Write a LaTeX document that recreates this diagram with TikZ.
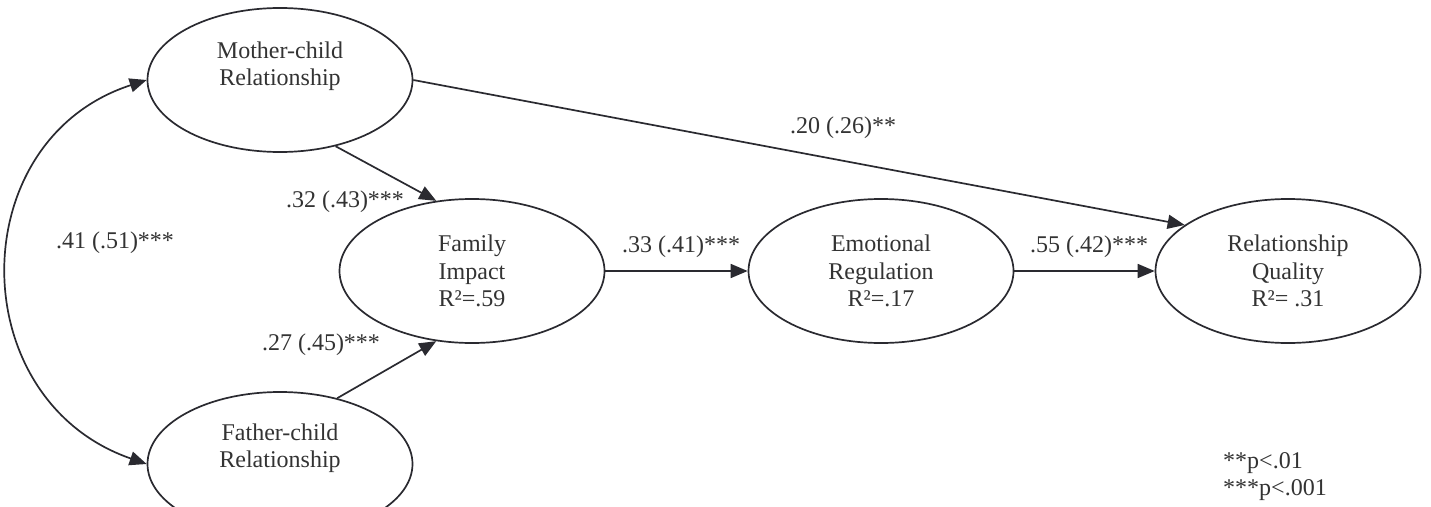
\documentclass[tikz,border=0pt]{standalone}
\usepackage{fontspec}
\setmainfont{Liberation Serif}
\usetikzlibrary{shapes.geometric,arrows.meta}
\definecolor{ink}{HTML}{2A2A30}
\definecolor{txt}{HTML}{333333}
\begin{document}
\begin{tikzpicture}[x=1pt,y=-1pt,
  latent/.style={ellipse,draw=ink,line width=1.7pt,minimum width=265pt,minimum height=144pt,inner sep=0pt},
  lbl/.style={text=txt,font=\fontsize{24}{27.5}\selectfont,align=center,inner sep=0pt},
  coef/.style={text=txt,font=\fontsize{24}{27.5}\selectfont,inner sep=0pt},
  pathto/.style={draw=ink,line width=1.7pt,-{Triangle[length=17pt,width=14pt]}},
  twoway/.style={draw=ink,line width=1.7pt,{Triangle[length=17pt,width=14pt]}-{Triangle[length=17pt,width=14pt]}},
]
\useasboundingbox (0,0) rectangle (1431,506);
\clip (0,0) rectangle (1431,506);
\fill[white] (0,0) rectangle (1431,506);

\node[latent] (mc) at (280,80) {};
\node[latent] (fc) at (280,464) {};
\node[latent] (fi) at (472,271) {};
\node[latent] (er) at (881,271) {};
\node[latent] (rq) at (1288,271) {};

\node[lbl] (mct) at (280,66) {Mother-child\\Relationship};
\node[lbl] (fct) at (280,448) {Father-child\\Relationship};
\node[lbl] (fit) at (472,271) {Family\\Impact\\R²=.59};
\node[lbl] (ert) at (881,271) {Emotional\\Regulation\\R²=.17};
\node[lbl] (rqt) at (1288,271) {Relationship\\Quality\\R²= .31};

\draw[pathto] (mc.east) -- (rq.156);
\draw[pathto] (mc.-50) -- (fi.117);
\draw[pathto] (fc.49) -- (fi.-117);
\draw[pathto] (fi.east) -- (er.west);
\draw[pathto] (er.east) -- (rq.west);
\draw[twoway] (mc.west) .. controls (-38,140) and (-38,400) .. (fc.west);

\node[coef] (c1) at (843,128) {.20 (.26)**};
\node[coef] (c2) at (345,202) {.32 (.43)***};
\node[coef] (c3) at (115,243) {.41 (.51)***};
\node[coef] (c4) at (321,345) {.27 (.45)***};
\node[coef] (c5) at (681,247) {.33 (.41)***};
\node[coef] (c6) at (1089,247) {.55 (.42)***};

\node[coef,anchor=west] (n1) at (1223,463) {**p<.01};
\node[coef,anchor=west] (n2) at (1223,490) {***p<.001};
\end{tikzpicture}
\end{document}
